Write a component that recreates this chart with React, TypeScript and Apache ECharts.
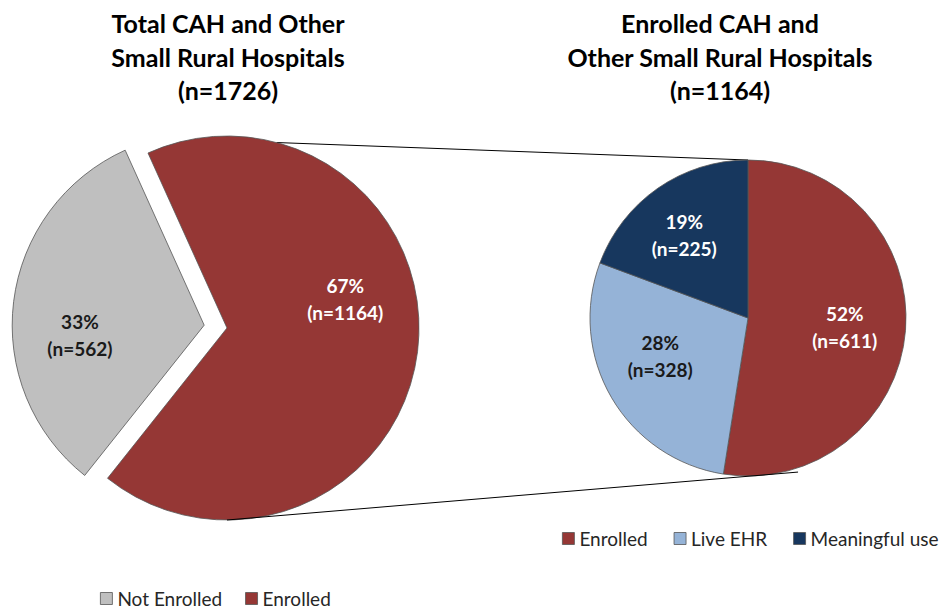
import React, { useEffect, useRef } from "react";
import * as echarts from "echarts";

// ---- data ----
const leftCategories = ["Not Enrolled", "Enrolled"];
const leftValues = [562, 1164];
const rightCategories = ["Enrolled", "Live EHR", "Meaningful use"];
const rightValues = [611, 328, 225];
const leftTitle = ["Total CAH and Other", "Small Rural Hospitals", "(n=1726)"];
const rightTitle = ["Enrolled CAH and", "Other Small Rural Hospitals", "(n=1164)"];

const COLORS: Record<string, string> = {
  "Not Enrolled": "#BFBFBF",
  Enrolled: "#953735",
  "Live EHR": "#95B3D7",
  "Meaningful use": "#17375E",
};

const FONT = "Lato, 'Open Sans', sans-serif";

export default function App() {
  const ref = useRef<HTMLDivElement>(null);
  useEffect(() => {
    if (!ref.current) return;
    const chart = echarts.init(ref.current, undefined, { renderer: "svg" });

    // geometry
    const L = { cx: 227, cy: 328, r: 192 };
    const R = { cx: 748, cy: 318, r: 158 };
    const leftTotal = leftValues.reduce((a, b) => a + b, 0);
    const redStartClock = -24.3; // degrees clockwise from 12 o'clock
    const redSpan = (360 * leftValues[1]) / leftTotal;
    const greyStartClock = redStartClock + redSpan;
    const leftStartAngle = 90 - greyStartClock;

    const pt = (c: { cx: number; cy: number; r: number }, clockDeg: number, extra = 0) => {
      const a = (clockDeg * Math.PI) / 180;
      return [c.cx + (c.r + extra) * Math.sin(a), c.cy - (c.r + extra) * Math.cos(a)];
    };
    const t1 = pt(L, 15);
    const t2 = pt(R, 0);
    const b1 = pt(L, 180);
    const b2 = pt(R, 162, 4);

    const leftDx = [-26, 20];
    const leftDy = [22, -41];
    const rightDx = [15, -17, -17];
    const rightDy = [3, -3, -16];

    const labelFmt = (p: any) => `${Math.round(p.percent)}%\n(n=${p.value})`;

    const titleText = (lines: string[], x: number) =>
      lines.map((t, i) => ({
        type: "text",
        x,
        y: 23 + i * 33.5,
        style: {
          text: t,
          fill: "#000",
          font: `bold 25px ${FONT}`,
          textAlign: "center",
          textVerticalAlign: "middle",
        },
      }));

    const legendBase = {
      icon: "rect",
      orient: "horizontal",
      itemWidth: 12,
      itemHeight: 12,
      padding: 0,
      width: 420,
      selectedMode: false,
      itemStyle: { borderColor: "#555", borderWidth: 0.8 },
      textStyle: { fontSize: 19, color: "#262626", fontFamily: FONT },
    };

    const labelBase = {
      show: true,
      position: "inside",
      formatter: labelFmt,
      fontFamily: FONT,
      fontSize: 19,
      fontWeight: "bold",
      lineHeight: 27,
      color: "#fff",
    };

    chart.setOption({
      animation: false,
      textStyle: { fontFamily: FONT },
      legend: [
        { ...legendBase, data: leftCategories, left: 100, top: 589, itemGap: 23 },
        { ...legendBase, data: rightCategories, left: 562, top: 529, itemGap: 26 },
      ],
      graphic: [
        {
          type: "line",
          shape: { x1: t1[0], y1: t1[1], x2: t2[0], y2: t2[1] },
          style: { stroke: "#000", lineWidth: 1 },
          z: 0,
        },
        {
          type: "line",
          shape: { x1: b1[0], y1: b1[1], x2: b2[0], y2: b2[1] },
          style: { stroke: "#000", lineWidth: 1 },
          z: 10,
        },
        ...titleText(leftTitle, 228),
        ...titleText(rightTitle, 720),
      ],
      series: [
        {
          type: "pie",
          center: [L.cx, L.cy],
          radius: L.r,
          startAngle: leftStartAngle,
          clockwise: true,
          selectedMode: "single",
          selectedOffset: 23,
          z: 3,
          emphasis: { disabled: true },
          itemStyle: { borderColor: "#555", borderWidth: 0.8 },
          label: labelBase,
          labelLine: { show: false },
          labelLayout: (p: any) => ({ dx: leftDx[p.dataIndex], dy: leftDy[p.dataIndex] }),
          data: leftCategories.map((n, i) => ({
            name: n,
            value: leftValues[i],
            selected: n === "Not Enrolled",
            itemStyle: { color: COLORS[n] },
            label: n === "Not Enrolled" ? { color: "#1a1a1a" } : undefined,
          })),
        },
        {
          type: "pie",
          center: [R.cx, R.cy],
          radius: R.r,
          startAngle: 90,
          clockwise: true,
          z: 3,
          emphasis: { disabled: true },
          itemStyle: { borderColor: "#555", borderWidth: 0.8 },
          label: labelBase,
          labelLine: { show: false },
          labelLayout: (p: any) => ({ dx: rightDx[p.dataIndex], dy: rightDy[p.dataIndex] }),
          data: rightCategories.map((n, i) => ({
            name: n,
            value: rightValues[i],
            itemStyle: { color: COLORS[n] },
            label: n === "Live EHR" ? { color: "#1a1a1a" } : undefined,
          })),
        },
      ],
    });
    return () => chart.dispose();
  }, []);
  return (
    <div
      ref={ref}
      style={{ position: "fixed", left: 0, top: 0, width: 945, height: 610, background: "#fff" }}
    />
  );
}
